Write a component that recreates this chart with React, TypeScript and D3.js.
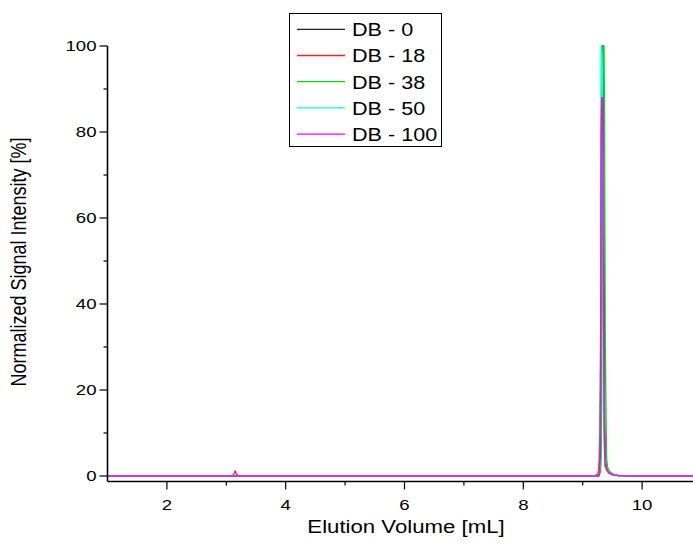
import React from "react";
import * as d3 from "d3";

const seriesNames = ["DB - 0", "DB - 18", "DB - 38", "DB - 50", "DB - 100"];
const seriesColors = ["#202020", "#ff2020", "#00e000", "#00ffff", "#ff00ff"];

const xValues = [1, 3.1, 3.13, 3.15, 3.17, 3.2, 9.2, 9.26, 9.28, 9.3, 9.31, 9.32, 9.33, 9.34, 9.35, 9.36, 9.37, 9.38, 9.4, 9.42, 9.45, 9.5, 9.6, 9.8, 11];

const db0 = [0, 0, 0, 0, 0, 0, 0, 0, 0.5, 5, 30, 85, 100, 100, 85, 45, 14, 4, 1.8, 1.2, 0.7, 0.35, 0.1, 0, 0];
const db18 = [0, 0, 0.5, 1.2, 0.5, 0, 0, 0.5, 4, 25, 70, 100, 98, 72, 38, 13, 4, 2, 2.4, 1.3, 0.7, 0.35, 0.1, 0, 0];
const db38 = [0, 0, 0, 0, 0, 0, 0, 0, 0, 1, 4, 18, 60, 95, 100, 100, 75, 32, 4.5, 2, 1.1, 0.5, 0.15, 0, 0];
const db50 = [0, 0, 0, 0, 0, 0, 0, 0, 0.3, 30, 100, 100, 95, 70, 35, 12, 5, 2.5, 1.5, 1, 0.6, 0.3, 0.1, 0, 0];
const db100 = [0, 0, 0, 0, 0, 0, 0, 0, 0.3, 20, 80, 88, 88, 75, 40, 14, 5, 2.5, 1.5, 1, 0.6, 0.3, 0.1, 0, 0];

const seriesValues = [db0, db18, db38, db50, db100];

const xTicks = [2, 4, 6, 8, 10];
const xMinorTicks = [3, 5, 7, 9];
const yTicks = [0, 20, 40, 60, 80, 100];
const yMinorTicks = [10, 30, 50, 70, 90];

const SX = 1.2;

function SText({ x, y, anchor, size, children, dy }: any) {
  return (
    <g transform={`translate(${x},${y}) scale(${SX},1)`}>
      <text x={0} y={0} dy={dy} textAnchor={anchor} fontSize={size}>
        {children}
      </text>
    </g>
  );
}

export default function App() {
  const W = 693;
  const H = 547;
  const x = d3.scaleLinear().domain([1, 11]).range([107.5, 701.5]);
  const y = d3.scaleLinear().domain([0, 100]).range([476, 46]);
  const axisY = 481.5;
  const axisX = 107.5;
  const font = "'Liberation Sans', Arial, sans-serif";

  const line = d3
    .line<[number, number]>()
    .x((d) => x(d[0]))
    .y((d) => y(d[1]));

  const legendX = 289;
  const legendY = 13;
  const legendRowH = 26.2;

  return (
    <svg
      width={W}
      height={H}
      style={{ position: "absolute", left: 0, top: 0, background: "#fff" }}
      fontFamily={font}
    >
      <rect x={0} y={0} width={W} height={H} fill="#fff" />
      {seriesValues.map((vals, i) => (
        <path
          key={i}
          d={line(xValues.map((xv, j) => [xv, vals[j]] as [number, number])) || ""}
          fill="none"
          stroke={seriesColors[i]}
          strokeWidth={1.3}
          strokeLinejoin="round"
        />
      ))}
      {/* axes */}
      <line x1={axisX} x2={axisX} y1={y(100)} y2={axisY} stroke="#000" strokeWidth={1.6} />
      <line x1={axisX} x2={W} y1={axisY} y2={axisY} stroke="#000" strokeWidth={1.6} />
      {yTicks.map((t) => (
        <g key={"yt" + t}>
          <line x1={axisX - 8} x2={axisX} y1={y(t)} y2={y(t)} stroke="#000" strokeWidth={1.2} />
          <SText x={axisX - 11} y={y(t)} dy="0.35em" anchor="end" size={15.5}>
            {t}
          </SText>
        </g>
      ))}
      {yMinorTicks.map((t) => (
        <line key={"ym" + t} x1={axisX - 4} x2={axisX} y1={y(t)} y2={y(t)} stroke="#000" strokeWidth={1.2} />
      ))}
      {xTicks.map((t) => (
        <g key={"xt" + t}>
          <line x1={x(t)} x2={x(t)} y1={axisY} y2={axisY + 8} stroke="#000" strokeWidth={1.2} />
          <SText x={x(t)} y={510} anchor="middle" size={15.5}>
            {t}
          </SText>
        </g>
      ))}
      {xMinorTicks.map((t) => (
        <line key={"xm" + t} x1={x(t)} x2={x(t)} y1={axisY} y2={axisY + 4} stroke="#000" strokeWidth={1.2} />
      ))}
      <SText x={406} y={533} anchor="middle" size={18.5}>
        Elution Volume [mL]
      </SText>
      <g transform={`translate(26,262) scale(${SX},1) rotate(-90)`}>
        <text x={0} y={0} textAnchor="middle" fontSize={18}>
          Normalized Signal Intensity [%]
        </text>
      </g>
      {/* legend */}
      <rect x={legendX + 0.5} y={legendY + 0.5} width={152} height={133} fill="#fff" stroke="#000" strokeWidth={1} />
      {seriesNames.map((name, i) => {
        const cy = legendY + 16.3 + i * legendRowH;
        return (
          <g key={name}>
            <line x1={legendX + 8} x2={legendX + 56} y1={cy} y2={cy} stroke={seriesColors[i]} strokeWidth={1.3} />
            <SText x={legendX + 63} y={cy + 6.8} anchor="start" size={18}>
              {name}
            </SText>
          </g>
        );
      })}
    </svg>
  );
}
